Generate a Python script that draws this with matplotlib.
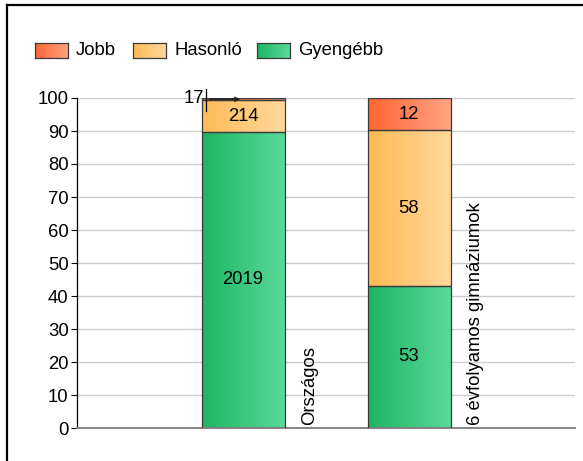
import numpy as np
import matplotlib
matplotlib.use('Agg')
import matplotlib.pyplot as plt
from matplotlib.colors import LinearSegmentedColormap
from matplotlib.patches import Rectangle

plt.rcParams['font.family'] = ['Liberation Sans', 'DejaVu Sans']

categories = ["Országos", "6 évfolyamos gimnáziumok"]
series = ["Jobb", "Hasonló", "Gyengébb"]
gyengebb = [2019, 53]
hasonlo = [214, 58]
jobb = [17, 12]

grad = {
    "Jobb": ("#ff6433", "#ffa482"),
    "Hasonló": ("#ffbb55", "#ffd89c"),
    "Gyengébb": ("#1db563", "#5ad99a"),
}

counts = np.array([gyengebb, hasonlo, jobb], dtype=float)
pct = counts / counts.sum(axis=0) * 100
names = ["Gyengébb", "Hasonló", "Jobb"]
fs = 13.3

fig = plt.figure(figsize=(5.83, 4.61), dpi=100)
ax = fig.add_axes([77 / 583, 1 - 428 / 461, 498 / 583, 330 / 461])

xs = [1, 2]
width = 0.5
ramp = np.linspace(0, 1, 256).reshape(1, -1)
for i, x in enumerate(xs):
    bottom = 0
    for j, name in enumerate(names):
        h = pct[j, i]
        cmap = LinearSegmentedColormap.from_list(name, grad[name])
        ax.imshow(ramp, cmap=cmap, aspect='auto', zorder=2,
                  extent=(x - width / 2, x + width / 2, bottom, bottom + h))
        ax.add_patch(Rectangle((x - width / 2, bottom), width, h, fill=False,
                               edgecolor="#3a3a3a", linewidth=0.9, zorder=3))
        val = int(counts[j, i])
        if h > 3:
            ax.text(x, bottom + h / 2, str(val), ha='center', va='center',
                    fontsize=fs, zorder=4)
        else:
            # small segment: label outside with a leader line
            lx = x - width / 2 + 0.03
            ax.text(lx - 0.015, bottom + h / 2 + 0.3, str(val), ha='right',
                    va='center', fontsize=fs, zorder=4)
            ax.plot([lx, lx], [bottom - 3.2, bottom + 3.5],
                    color='black', lw=0.9, zorder=4, clip_on=False)
            ax.annotate("", xy=(x + 0.0, bottom + h / 2), xytext=(lx, bottom + h / 2),
                        arrowprops=dict(arrowstyle='-|>', color='#222222', lw=1.0,
                                        mutation_scale=7), zorder=4)
        bottom += h
    ax.text(x + width / 2 + 0.15, 1, categories[i], rotation=90, ha='center',
            va='bottom', fontsize=fs)

ax.set_xlim(0, 3)
ax.set_ylim(0, 100)
ax.set_yticks(range(0, 101, 10))
ax.set_xticks([])
ax.tick_params(axis='y', labelsize=fs, length=4, width=0.8, pad=2)
ax.yaxis.grid(True, color='#cccccc', linewidth=1)
ax.set_axisbelow(True)
for s in ['top', 'right']:
    ax.spines[s].set_visible(False)
ax.spines['bottom'].set_color('#888888')
ax.spines['bottom'].set_linewidth(1.5)
ax.spines['left'].set_linewidth(0.9)

# legend
lx = 35
for name in series:
    lax = fig.add_axes([lx / 583, 1 - 58 / 461, 33 / 583, 15 / 461])
    cmap = LinearSegmentedColormap.from_list(name, grad[name])
    lax.imshow(ramp, cmap=cmap, aspect='auto')
    lax.set_xticks([])
    lax.set_yticks([])
    for s in lax.spines.values():
        s.set_color('#3a3a3a')
        s.set_linewidth(0.9)
    fig.text((lx + 41) / 583, 1 - 55 / 461, name, fontsize=fs, va='baseline')
    lx += {"Jobb": 98, "Hasonló": 124, "Gyengébb": 0}[name]

# outer frame
fig.add_artist(plt.Line2D([7 / 583, 7 / 583], [0, 1 - 5 / 461], color='black',
                          lw=1.6, transform=fig.transFigure))
fig.add_artist(plt.Line2D([7 / 583, 1], [1 - 5 / 461, 1 - 5 / 461], color='black',
                          lw=1.6, transform=fig.transFigure))

fig.savefig("out.png", dpi=100)
